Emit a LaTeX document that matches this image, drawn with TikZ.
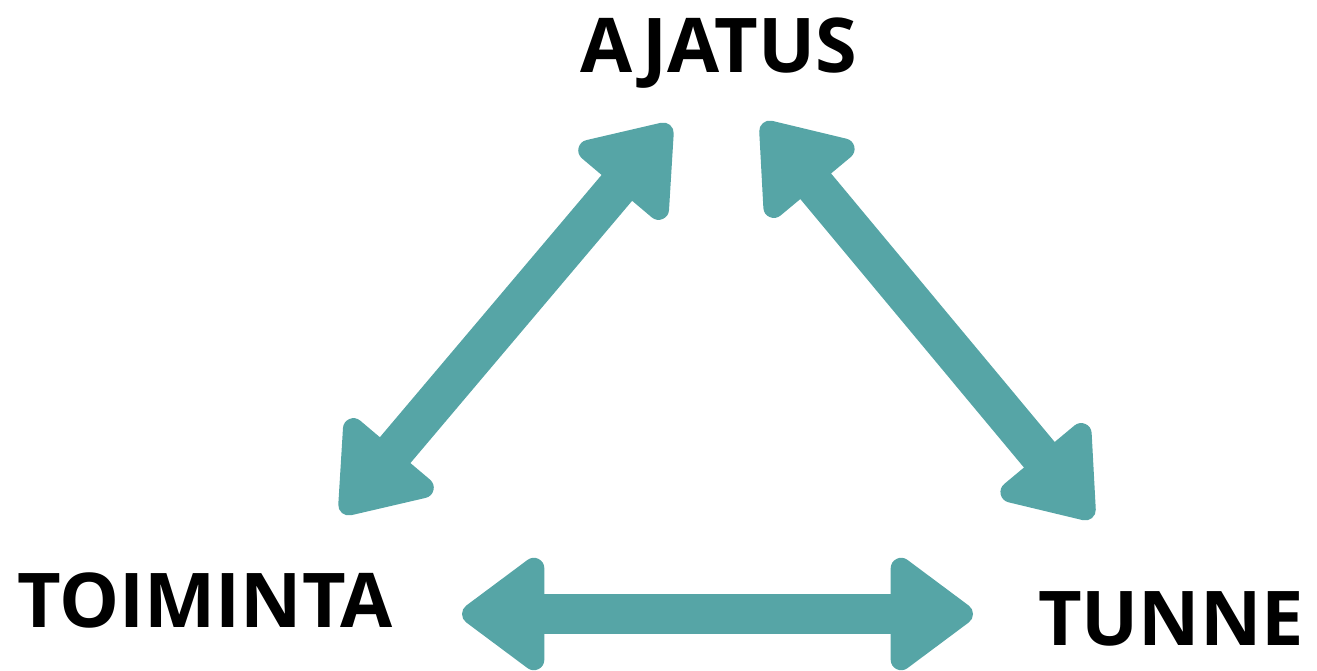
\documentclass[tikz,border=0pt]{standalone}
\usepackage{fontspec}
\setmainfont{Open Sans}
\usetikzlibrary{arrows.meta}
\definecolor{arrowteal}{RGB}{86,165,166}

\begin{document}
\begin{tikzpicture}[x=0.02cm,y=-0.02cm,
	word/.style={anchor=base,font=\bfseries\fontsize{43}{50}\selectfont},
	link/.style={draw=arrowteal,line width=0.8cm,
		{Triangle[length=1.8cm,width=2.55cm,line width=0.42cm,round,fill=arrowteal,color=arrowteal]}-{Triangle[length=1.8cm,width=2.55cm,line width=0.42cm,round,fill=arrowteal,color=arrowteal]}}]

\useasboundingbox (0,0) rectangle (1317,670);

\node[word](ajatus) at (719,72){AJATUS};
\node[word](toiminta) at (205,627){TOIMINTA};
\node[word](tunne) at (1171,645){TUNNE};

% arrow ends
\coordinate (ajL) at (670,125);
\coordinate (ajR) at (763,123);
\coordinate (toU) at (342,513);
\coordinate (toR) at (462,614);
\coordinate (tuU) at (1092,518);
\coordinate (tuL) at (973,614);

\path(toU)edge[link](ajL)
	(ajR)edge[link](tuU)
	(toR)edge[link](tuL);

\end{tikzpicture}
\end{document}
